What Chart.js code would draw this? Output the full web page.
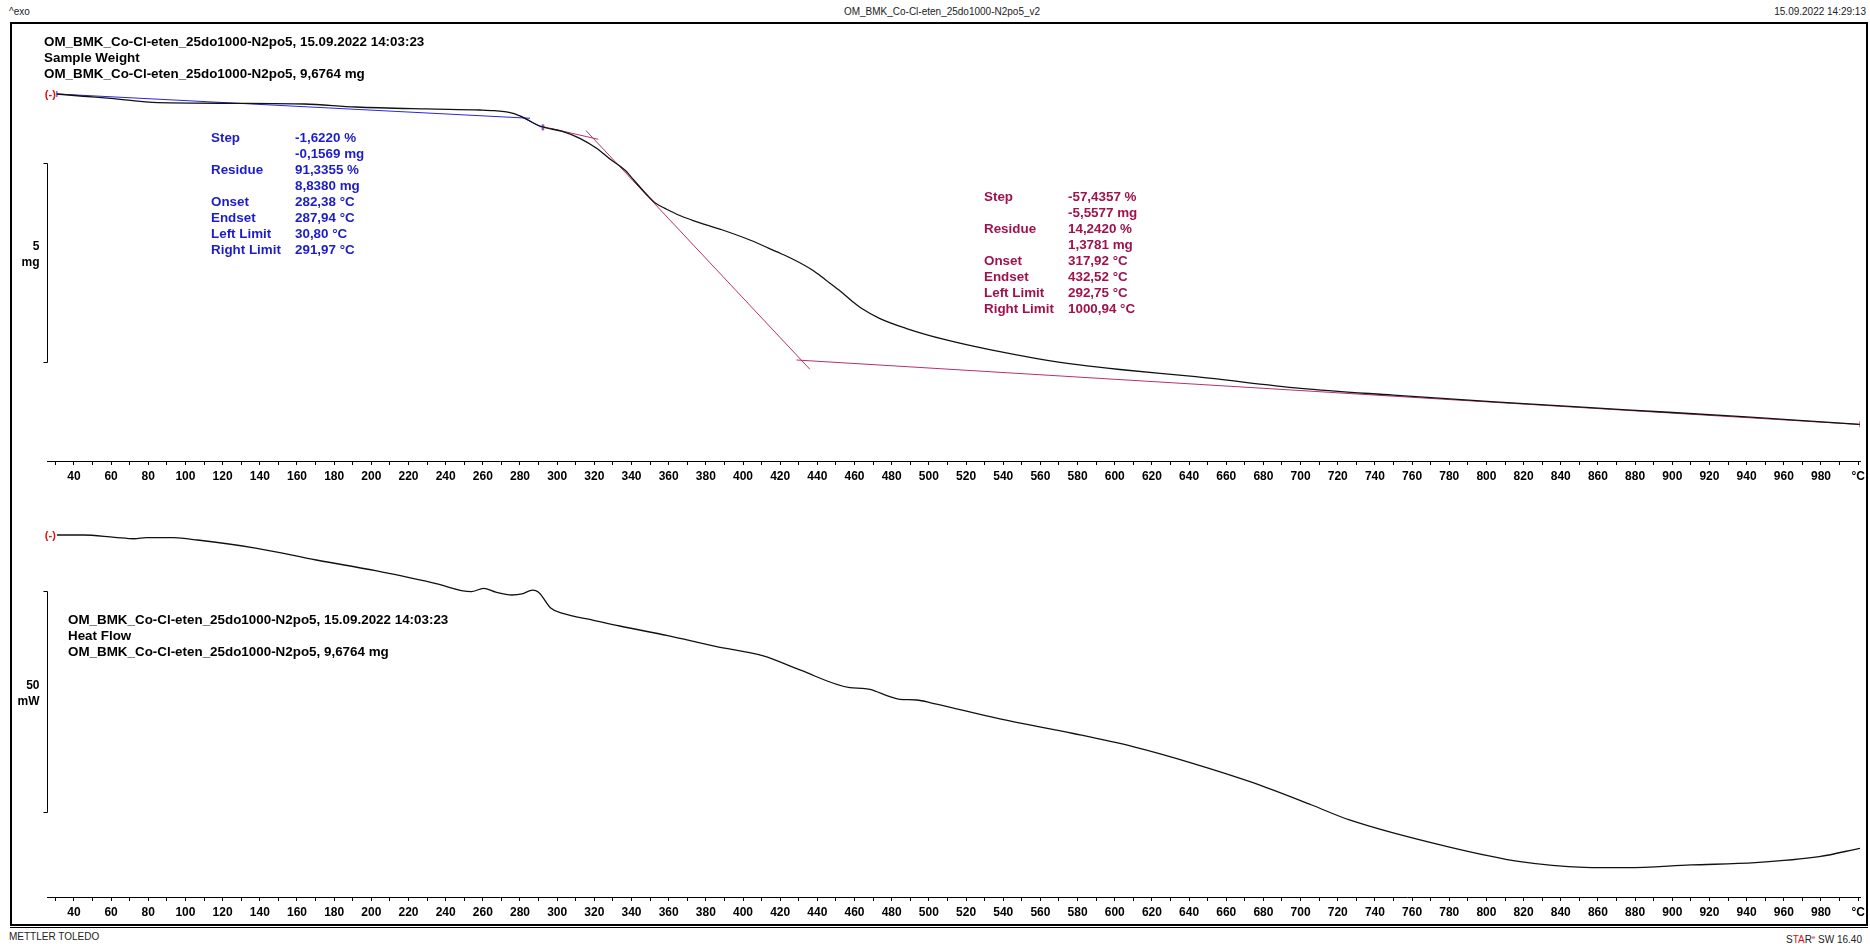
<!DOCTYPE html>
<html>
<head>
    <title>OM_BMK_Co-Cl-eten_25do1000-N2po5_v2</title>
    <style>
        body {
            margin: 0;
            background: #ffffff;
            font-family: 'Liberation Sans', Arial, sans-serif;
        }
        #page {
            position: relative;
            width: 1870px;
            height: 944px;
            overflow: hidden;
        }
        .hdr {
            position: absolute;
            font-size: 10px;
            color: #222;
            white-space: nowrap;
            line-height: 12px;
        }
        #frame {
            position: absolute;
            left: 10px;
            top: 22px;
            width: 1858px;
            height: 904px;
            box-sizing: border-box;
            border: 2px solid #000;
        }
        #frame2 {
            position: absolute;
            left: 10px;
            top: 927px;
            width: 1858px;
            height: 1px;
            background: #000;
        }
        .title {
            position: absolute;
            font-size: 13.4px;
            font-weight: bold;
            line-height: 16px;
            color: #000;
            white-space: nowrap;
        }
        .res {
            position: absolute;
            font-size: 13.4px;
            font-weight: bold;
            line-height: 16px;
            border-collapse: collapse;
        }
        .res td { padding: 0; white-space: nowrap; height: 16px; }
        .res td.k { width: 84px; }
        .blue { color: #1c1cc8; }
        .pink { color: #a0124e; }
        canvas { position: absolute; left: 0; }
    </style>
    <script src="https://cdn.jsdelivr.net/npm/chart.js"></script>
</head>
<body>
<div id="page">
    <div class="hdr" style="left:9px; top:6px;">^exo</div>
    <div class="hdr" style="left:0; width:1884px; text-align:center; top:6px;">OM_BMK_Co-Cl-eten_25do1000-N2po5_v2</div>
    <div class="hdr" style="right:4px; top:6px;">15.09.2022 14:29:13</div>
    <div id="frame"></div>
    <div id="frame2"></div>
    <div class="hdr" style="left:9px; top:931px;">METTLER TOLEDO</div>
    <div class="hdr" style="right:8px; top:931px;">S<span style="color:#e01010">TA</span>R<sup style="font-size:6px;color:#e01010">e</sup> SW 16.40</div>

    <canvas id="tgaChart" width="1870" height="500" style="top:0"></canvas>
    <canvas id="dscChart" width="1870" height="470" style="top:470px"></canvas>

    <div class="title" style="left:44px; top:34px;">
        OM_BMK_Co-Cl-eten_25do1000-N2po5, 15.09.2022 14:03:23<br>
        Sample Weight<br>
        OM_BMK_Co-Cl-eten_25do1000-N2po5, 9,6764 mg
    </div>
    <div class="title" style="left:68px; top:612px;">
        OM_BMK_Co-Cl-eten_25do1000-N2po5, 15.09.2022 14:03:23<br>
        Heat Flow<br>
        OM_BMK_Co-Cl-eten_25do1000-N2po5, 9,6764 mg
    </div>

    <table class="res blue" style="left:211px; top:130px;">
        <tr><td class="k">Step</td><td>-1,6220 %</td></tr>
        <tr><td class="k"></td><td>-0,1569 mg</td></tr>
        <tr><td class="k">Residue</td><td>91,3355 %</td></tr>
        <tr><td class="k"></td><td>8,8380 mg</td></tr>
        <tr><td class="k">Onset</td><td>282,38 °C</td></tr>
        <tr><td class="k">Endset</td><td>287,94 °C</td></tr>
        <tr><td class="k">Left Limit</td><td>30,80 °C</td></tr>
        <tr><td class="k">Right Limit</td><td>291,97 °C</td></tr>
    </table>
    <table class="res pink" style="left:984px; top:189px;">
        <tr><td class="k">Step</td><td>-57,4357 %</td></tr>
        <tr><td class="k"></td><td>-5,5577 mg</td></tr>
        <tr><td class="k">Residue</td><td>14,2420 %</td></tr>
        <tr><td class="k"></td><td>1,3781 mg</td></tr>
        <tr><td class="k">Onset</td><td>317,92 °C</td></tr>
        <tr><td class="k">Endset</td><td>432,52 °C</td></tr>
        <tr><td class="k">Left Limit</td><td>292,75 °C</td></tr>
        <tr><td class="k">Right Limit</td><td>1000,94 °C</td></tr>
    </table>
</div>

<script>
    // sample weight curve (TGA), temperature in °C, mass in mg
    const tgaTemp = [30.8, 45, 59.7, 85.2, 127.7, 164, 191.7, 229.9, 258.4, 266,
        276.3, 281.7, 290.7, 303.2, 312.2, 321.2, 328.4, 336.4, 341.2, 348.4,
        353, 358, 365.3, 372.4, 389, 403.7, 418, 427.7, 437.3, 444.5,
        451.6, 459, 463.7, 473.4, 487.6, 509.4, 533.4, 557.4, 581, 605.5,
        643.6, 700, 750, 806.7, 875.5, 940, 1000.9];
    const tgaMass = [9.676, 9.62, 9.568, 9.458, 9.443, 9.425, 9.350, 9.300, 9.274, 9.257,
        9.191, 9.091, 8.872, 8.729, 8.563, 8.312, 8.043, 7.766, 7.516, 7.139,
        6.930, 6.804, 6.636, 6.51, 6.259, 6.008, 5.714, 5.506, 5.254, 5.003,
        4.751, 4.458, 4.292, 4.040, 3.790, 3.496, 3.245, 3.036, 2.868, 2.741,
        2.573, 2.280, 2.110, 1.935, 1.742, 1.562, 1.376];

    // heat flow curve, mW (relative to start)
    const hfTemp = [30.8, 44.9, 61.9, 72.5, 78.9, 93.8, 106.5, 138.5, 170.4, 202.3,
        234.2, 253.8, 260.4, 267, 275.7, 281, 286.8, 290, 296.7, 303,
        319.2, 333.7, 359.5, 385.2, 410.9, 430.6, 457.5, 463.8, 468.3, 479,
        484.4, 493.4, 502.1, 538.2, 577.7, 609.8, 641.9, 674, 706, 726.3,
        779, 818.2, 852.7, 875.5, 910, 944.7, 979, 1001];
    const hfValue = [0, 0, -0.52, -0.84, -0.61, -0.61, -1.13, -3.0, -5.64, -8.06,
        -10.9, -12.8, -12.03, -12.9, -13.54, -13.3, -12.42, -12.9, -16.55, -17.7,
        -19.19, -20.54, -22.73, -25.15, -27.31, -30.47, -34.47, -34.61, -34.83, -36.5,
        -37.09, -37.25, -37.99, -41.53, -44.81, -47.77, -51.53, -55.85, -60.95, -64.33,
        -70.36, -73.75, -75.01, -75.1, -74.49, -73.97, -72.62, -70.72];

    // step evaluation tangents (endpoints), step 1 blue, step 2 red
    const step1BaseT = [30.8, 285.4];
    const step1BaseM = [9.676, 9.066];
    const step1SlopeT = [280, 291.5];
    const step1SlopeM = [9.12, 8.84];
    const step1LimitT = [30.8, 291.97];
    const step1LimitM = [9.676, 8.838];

    const step2PreT = [292.5, 322.1];
    const step2PreM = [8.855, 8.538];
    const step2SlopeT = [315.5, 436];
    const step2SlopeM = [8.757, 2.759];
    const step2PostT = [428.8, 1000.9];
    const step2PostM = [2.993, 1.372];
    const step2LimitT = [292.75, 1000.94];
    const step2LimitM = [8.838, 1.378];

    // x axis ticks every 10 °C, labels every 20 °C
    const tickStep = 10;
    const xMin = 25.5, xMax = 1001;

    const pts = (xs, ys) => xs.map((x, i) => ({x: x, y: ys[i]}));
    const FONT = "'Liberation Sans', Arial, sans-serif";
    const BLUE_LINE = '#2626e0';
    const PINK_LINE = '#b8306e';

    function lineSet(data, color, width) {
        return {
            data: data,
            borderColor: color,
            borderWidth: width,
            pointRadius: 0,
            fill: false,
            cubicInterpolationMode: 'monotone'
        };
    }

    function limitSet(data, color) {
        return {
            data: data,
            showLine: false,
            pointStyle: 'line',
            rotation: 90,
            pointRadius: 3,
            pointBorderColor: color,
            pointBorderWidth: 1
        };
    }

    // scale bar + start marker
    const scaleBar = {
        id: 'scaleBar',
        afterDatasetsDraw(chart, args, opts) {
            const ctx = chart.ctx;
            const x = chart.scales.x, y = chart.scales.y;
            const top = Math.round(y.getPixelForValue(opts.to)) + 0.5;
            const bot = Math.round(y.getPixelForValue(opts.from)) + 0.5;
            const bx = Math.round(x.left) + 0.5;
            ctx.save();
            ctx.strokeStyle = '#000';
            ctx.lineWidth = 1;
            ctx.beginPath();
            ctx.moveTo(bx - 4, top);
            ctx.lineTo(bx, top);
            ctx.lineTo(bx, bot);
            ctx.lineTo(bx - 4, bot);
            ctx.stroke();
            const mid = (top + bot) / 2;
            ctx.fillStyle = '#000';
            ctx.font = 'bold 12px ' + FONT;
            ctx.textAlign = 'right';
            ctx.textBaseline = 'middle';
            ctx.fillText(opts.value, bx - 8, mid - 16);
            ctx.fillText(opts.unit, bx - 8, mid);
            const first = chart.data.datasets[0].data[0];
            ctx.fillStyle = '#e01010';
            ctx.font = 'bold 11px ' + FONT;
            ctx.fillText('(-)', x.getPixelForValue(first.x) - 1, y.getPixelForValue(first.y) + 1);
            ctx.restore();
        }
    };

    function xAxis() {
        return {
            type: 'linear',
            min: xMin,
            max: xMax,
            afterFit: function(scale) {
                scale.height = 30;
                scale.paddingLeft = 0;
                scale.paddingRight = 0;
            },
            afterBuildTicks: function(scale) {
                const t = [];
                for (let v = 30; v <= 1000; v += tickStep) t.push({value: v});
                scale.ticks = t;
            },
            border: {display: true, color: '#000', width: 1},
            grid: {
                drawOnChartArea: false,
                drawTicks: true,
                tickLength: 4,
                color: '#000'
            },
            ticks: {
                autoSkip: false,
                maxRotation: 0,
                padding: 4,
                color: '#000',
                font: {family: FONT, size: 12, weight: 'bold'},
                callback: function(v) {
                    if (v === 1000) return '°C';
                    return v % 20 === 0 ? String(v) : '';
                }
            }
        };
    }

    function baseOptions(yMin, yMax, pad, bar) {
        return {
            responsive: false,
            animation: false,
            events: [],
            layout: {padding: pad},
            scales: {
                x: xAxis(),
                y: {type: 'linear', display: false, min: yMin, max: yMax}
            },
            plugins: {
                legend: {display: false},
                tooltip: {enabled: false},
                scaleBar: bar
            }
        };
    }

    new Chart(document.getElementById('tgaChart'), {
        type: 'line',
        data: {
            datasets: [
                lineSet(pts(tgaTemp, tgaMass), '#111', 1.3),
                lineSet(pts(step1BaseT, step1BaseM), BLUE_LINE, 1),
                lineSet(pts(step1SlopeT, step1SlopeM), BLUE_LINE, 1),
                lineSet(pts(step2PreT, step2PreM), PINK_LINE, 1),
                lineSet(pts(step2SlopeT, step2SlopeM), PINK_LINE, 1),
                lineSet(pts(step2PostT, step2PostM), PINK_LINE, 1),
                limitSet(pts(step1LimitT, step1LimitM), BLUE_LINE),
                limitSet(pts(step2LimitT, step2LimitM), PINK_LINE)
            ]
        },
        options: baseOptions(0.455, 11.435, {left: 47, right: 10, top: 24, bottom: 9},
            {from: 2.94, to: 7.94, value: '5', unit: 'mg'}),
        plugins: [scaleBar]
    });

    new Chart(document.getElementById('dscChart'), {
        type: 'line',
        data: {
            datasets: [
                lineSet(pts(hfTemp, hfValue), '#111', 1.3)
            ]
        },
        options: baseOptions(-81.72, 12.87, {left: 47, right: 10, top: 8, bottom: 13},
            {from: -62.6, to: -12.6, value: '50', unit: 'mW'}),
        plugins: [scaleBar]
    });
</script>
</body>
</html>
